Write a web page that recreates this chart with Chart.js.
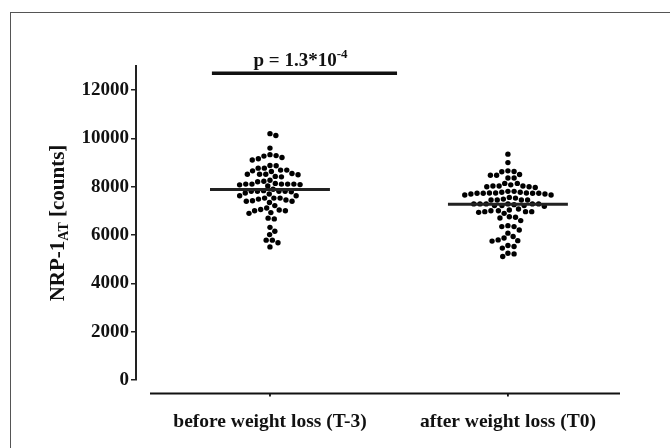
<!DOCTYPE html>
<html>
<head>
<meta charset="utf-8">
<script src="https://cdn.jsdelivr.net/npm/chart.js@4"></script>
<style>
  html, body { margin: 0; padding: 0; background: #fff; }
  #wrap { position: relative; width: 670px; height: 448px; overflow: hidden; }
</style>
</head>
<body>
<div id="wrap"><canvas id="chart" width="670" height="448"></canvas></div>
<script>
let categories = ['before weight loss (T-3)', 'after weight loss (T0)'];
let yTicks = [0, 2000, 4000, 6000, 8000, 10000, 12000];

// NRP-1 counts per patient (top to bottom)
let beforeValues = [
  10200, 10120, 9600,
  9330, 9270, 9160, 9110, 9210, 9290,
  8870, 8770, 8690, 8690, 8770, 8880,
  8630, 8520, 8520, 8430, 8410, 8500, 8520, 8550, 8660,
  8230, 8110, 8140, 8110, 8080, 8030, 8110, 8110, 8110, 8210, 8270, 8090,
  7810, 7740, 7840, 7810, 7810, 7900, 7790, 7810, 7700,
  7450, 7400, 7630, 7350, 7530, 7530, 7530, 7630, 7420, 7400, 7490,
  7220, 7040, 7010, 7010, 6930, 7120, 6900, 7060,
  6700, 6670, 6320, 6160, 6020, 5790, 5790, 5680, 5510
];
let afterValues = [
  9350, 9000,
  8510, 8630, 8480, 8620, 8660, 8480, 8360, 8360,
  8140, 8030, 8000, 8000, 7970, 8030, 8030, 8080, 8140,
  7810, 7770, 7740, 7740, 7730, 7730, 7700, 7660, 7660, 7700, 7730, 7730, 7740, 7770, 7810,
  7490, 7450, 7450, 7450, 7530, 7560, 7450,
  7220, 7220, 7190, 7290, 7290, 7290, 7290, 7290, 7290, 7260, 7220,
  6940, 6970, 7010, 7010, 7040, 7080, 6970, 6970,
  6900, 6710, 6600, 6740, 6760,
  6210, 6350, 6350, 6390, 6080,
  5940, 5800, 5750, 5770, 5880,
  5530, 5460, 5570,
  5250, 5110, 5220
];
let pLabel = 'p = 1.3*10';
let pExponent = '-4';
let sigLevel = 12700;      // height of the significance bar
let sigFrom = 0.756, sigTo = 1.534;

const FONT = '"Liberation Serif", "Times New Roman", serif';
const DOT = 6.2;       // swarm spacing in px
const HALF = 0.252;    // half width of mean line (x units)

function mean(arr) {
  return arr.reduce((a, b) => a + b, 0) / arr.length;
}

function meanLine(arr, cx) {
  let m = mean(arr);
  return [{ x: cx - HALF, y: m }, { x: cx + HALF, y: m }];
}

let decor = {
  id: 'decor',
  afterDraw(chart) {
    let ctx = chart.ctx;
    let area = chart.chartArea;
    let xs = chart.scales.x;
    ctx.save();

    // outer frame
    ctx.strokeStyle = '#555';
    ctx.lineWidth = 1;
    ctx.strokeRect(10.5, 12.5, 700, 500);

    // detached x axis with small ticks
    let ay = area.bottom + 13.5;
    ctx.strokeStyle = '#111';
    ctx.lineWidth = 1.8;
    ctx.beginPath();
    ctx.moveTo(area.left + 14, ay);
    ctx.lineTo(area.right, ay);
    [1, 2].forEach(v => {
      let px = xs.getPixelForValue(v);
      ctx.moveTo(px, ay);
      ctx.lineTo(px, ay + 3);
    });
    ctx.stroke();

    // y title with subscript
    ctx.fillStyle = '#111';
    ctx.textBaseline = 'alphabetic';
    let tBig = 'bold 21px ' + FONT, tSmall = 'bold 14px ' + FONT;
    ctx.font = tBig;
    let w1 = ctx.measureText('NRP-1').width;
    let w3 = ctx.measureText(' [counts]').width;
    ctx.font = tSmall;
    let w2 = ctx.measureText('AT').width;
    let total = w1 + w2 + w3;
    ctx.translate(64, (area.top + area.bottom) / 2);
    ctx.rotate(-Math.PI / 2);
    let sx = -total / 2;
    ctx.font = tBig;
    ctx.fillText('NRP-1', sx, 0);
    ctx.font = tSmall;
    ctx.fillText('AT', sx + w1, 4);
    ctx.font = tBig;
    ctx.fillText(' [counts]', sx + w1 + w2, 0);
    ctx.setTransform(1, 0, 0, 1, 0, 0);

    // p value above the bar
    let big = 'bold 19px ' + FONT, small = 'bold 13px ' + FONT;
    let barY = chart.scales.y.getPixelForValue(sigLevel);
    let barX = (xs.getPixelForValue(sigFrom) + xs.getPixelForValue(sigTo)) / 2 - 4;
    ctx.font = big;
    let pw = ctx.measureText(pLabel).width;
    ctx.font = small;
    let ew = ctx.measureText(pExponent).width;
    let px0 = barX - (pw + ew) / 2;
    ctx.font = big;
    ctx.fillText(pLabel, px0, barY - 7);
    ctx.font = small;
    ctx.fillText(pExponent, px0 + pw, barY - 15);

    ctx.restore();
  }
};

let chart = new Chart(document.getElementById('chart'), {
  type: 'scatter',
  data: {
    datasets: [
      { data: meanLine(beforeValues, 1), showLine: true, borderColor: '#222', borderWidth: 3, pointRadius: 0, order: 0 },
      { data: meanLine(afterValues, 2), showLine: true, borderColor: '#222', borderWidth: 3, pointRadius: 0, order: 0 },
      { data: [{ x: sigFrom, y: sigLevel }, { x: sigTo, y: sigLevel }], showLine: true, borderColor: '#111', borderWidth: 3.5, pointRadius: 0, order: 0 },
      { data: beforeValues.map(v => ({ x: 1, y: v })), pointRadius: 2.7, pointBackgroundColor: '#000', pointBorderWidth: 0, order: 1 },
      { data: afterValues.map(v => ({ x: 2, y: v })), pointRadius: 2.7, pointBackgroundColor: '#000', pointBorderWidth: 0, order: 1 }
    ]
  },
  options: {
    responsive: false,
    animation: false,
    layout: { padding: { top: 66, right: 50, left: 0, bottom: 0 } },
    plugins: { legend: { display: false }, tooltip: { enabled: false } },
    scales: {
      x: {
        type: 'linear',
        min: 0.437,
        max: 2.471,
        afterBuildTicks: axis => { axis.ticks = [{ value: 1 }, { value: 2 }]; },
        afterFit: s => { s.height = 68; },
        grid: { display: false },
        border: { display: false },
        ticks: {
          padding: 22,
          color: '#111',
          font: { family: FONT, size: 19.5, weight: 'bold' },
          callback: v => categories[v - 1]
        }
      },
      y: {
        min: 0,
        max: 13000,
        afterBuildTicks: axis => { axis.ticks = yTicks.map(v => ({ value: v })); },
        afterFit: s => { s.width = 136; },
        grid: { drawOnChartArea: false, drawTicks: true, tickLength: 5, color: '#222', lineWidth: 1.5 },
        border: { display: true, color: '#222', width: 2 },
        ticks: {
          padding: 2,
          color: '#111',
          font: { family: FONT, size: 19, weight: 'bold' },
          callback: v => String(v)
        }
      }
    }
  },
  plugins: [decor]
});

// lay the dots out as a beeswarm around each category, using the real scales
function swarm(values, cx) {
  let xs = chart.scales.x, ys = chart.scales.y;
  let pts = values.map(v => ({ v: v, py: ys.getPixelForValue(v), dx: 0 }));
  let placed = [];
  pts.slice().sort((a, b) => a.py - b.py).forEach(p => {
    let cands = [0];
    placed.forEach(q => {
      let dy = Math.abs(q.py - p.py);
      if (dy < DOT) {
        let w = Math.sqrt(DOT * DOT - dy * dy);
        cands.push(q.dx + w, q.dx - w);
      }
    });
    cands.sort((a, b) => Math.abs(a) - Math.abs(b));
    for (let c of cands) {
      let ok = placed.every(q => (q.dx - c) ** 2 + (q.py - p.py) ** 2 >= DOT * DOT - 0.01);
      if (ok) { p.dx = c; break; }
    }
    placed.push(p);
  });
  let base = xs.getPixelForValue(cx);
  return pts.map(p => ({ x: xs.getValueForPixel(base + p.dx), y: p.v }));
}

chart.data.datasets[3].data = swarm(beforeValues, 1);
chart.data.datasets[4].data = swarm(afterValues, 2);
chart.update('none');
</script>
</body>
</html>
